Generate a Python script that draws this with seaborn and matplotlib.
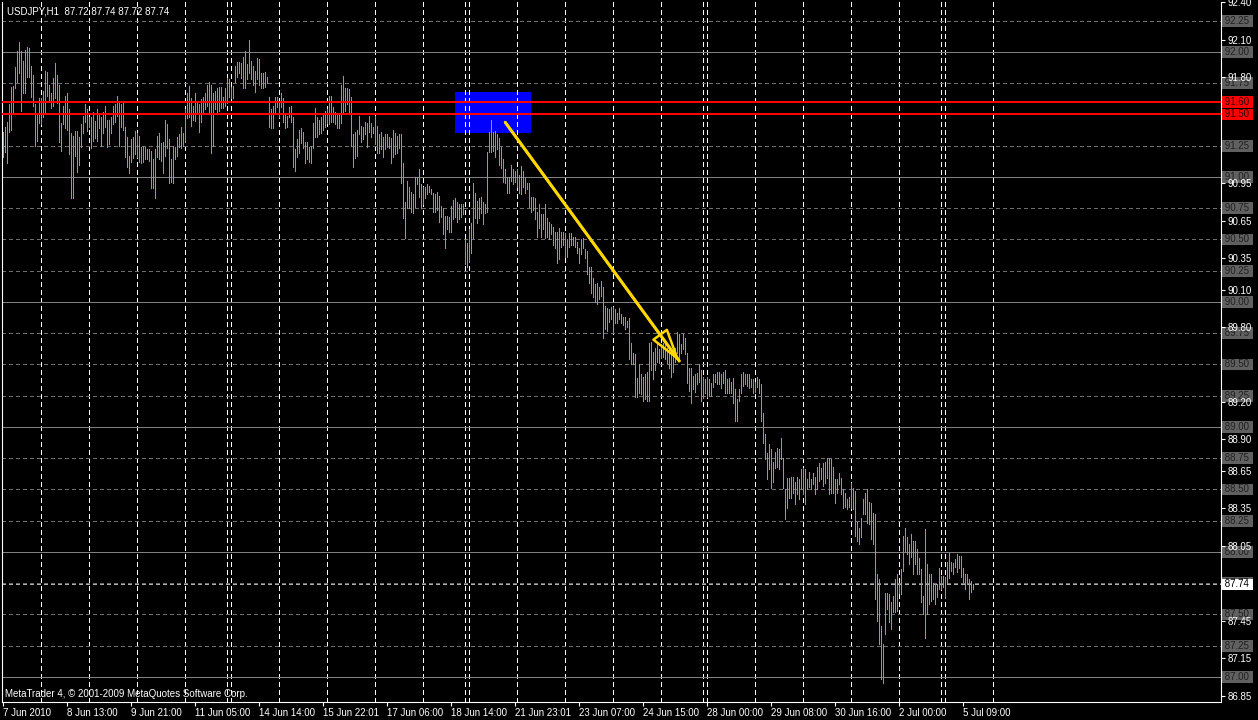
import datetime as dt
import numpy as np
import pandas as pd
import matplotlib
matplotlib.use("Agg")
import matplotlib.pyplot as plt
from matplotlib.patches import Rectangle, FancyArrowPatch
import seaborn as sns

# USDJPY H1 bars (high / low), first bar 7 Jun 2010 05:00
highs = [
    91.36, 91.40, 91.44, 91.58, 91.72, 91.73, 91.88, 92.01, 92.08, 92.01,
    91.93, 92.02, 92.04, 92.03, 91.89, 91.82, 91.58, 91.51, 91.63, 91.63,
    91.69, 91.85, 91.84, 91.74, 91.67, 91.79, 91.91, 91.82, 91.74, 91.43,
    91.57, 91.65, 91.67, 91.54, 91.35, 91.33, 91.37, 91.37, 91.32, 91.42,
    91.49, 91.58, 91.54, 91.48, 91.48, 91.52, 91.45, 91.54, 91.51, 91.48,
    91.52, 91.57, 91.46, 91.46, 91.48, 91.57, 91.58, 91.65, 91.60, 91.58,
    91.60, 91.40, 91.32, 91.17, 91.30, 91.32, 91.37, 91.35, 91.33, 91.24,
    91.25, 91.24, 91.22, 91.22, 91.21, 91.14, 91.22, 91.33, 91.35, 91.27,
    91.28, 91.46, 91.42, 91.30, 91.14, 91.25, 91.24, 91.32, 91.34, 91.40,
    91.35, 91.54, 91.67, 91.73, 91.63, 91.57, 91.67, 91.61, 91.58, 91.62,
    91.64, 91.67, 91.74, 91.76, 91.74, 91.67, 91.69, 91.71, 91.72, 91.72,
    91.64, 91.71, 91.79, 91.78, 91.72, 91.73, 91.89, 91.92, 91.92, 91.91,
    91.96, 92.01, 91.90, 92.10, 91.93, 91.89, 91.85, 91.95, 91.94, 91.83,
    91.83, 91.84, 91.80, 91.64, 91.54, 91.57, 91.64, 91.64, 91.59, 91.67,
    91.63, 91.50, 91.49, 91.56, 91.57, 91.48, 91.22, 91.30, 91.38, 91.39,
    91.36, 91.28, 91.28, 91.24, 91.25, 91.43, 91.55, 91.48, 91.46, 91.48,
    91.50, 91.53, 91.54, 91.65, 91.65, 91.56, 91.52, 91.51, 91.50, 91.74,
    91.81, 91.71, 91.71, 91.70, 91.64, 91.34, 91.36, 91.38, 91.49, 91.41,
    91.40, 91.44, 91.43, 91.49, 91.43, 91.40, 91.49, 91.41, 91.34, 91.36,
    91.32, 91.34, 91.34, 91.32, 91.31, 91.38, 91.35, 91.33, 91.34, 91.34,
    91.11, 90.80, 90.97, 90.92, 90.88, 90.86, 91.00, 91.00, 91.06, 90.94,
    90.92, 90.92, 90.94, 90.93, 90.90, 90.87, 90.86, 90.88, 90.85, 90.77,
    90.75, 90.69, 90.69, 90.68, 90.77, 90.82, 90.83, 90.80, 90.78, 90.78,
    90.78, 90.50, 90.47, 90.58, 90.63, 90.95, 90.87, 90.81, 90.83, 90.84,
    90.80, 90.78, 91.20, 91.36, 91.46, 91.36, 91.37, 91.34, 91.31, 91.24,
    91.14, 91.06, 91.00, 91.00, 91.10, 91.06, 91.05, 91.06, 91.02, 91.09,
    91.05, 90.99, 90.95, 90.95, 90.84, 90.84, 90.83, 90.72, 90.78, 90.70,
    90.70, 90.78, 90.67, 90.64, 90.62, 90.60, 90.56, 90.56, 90.59, 90.56,
    90.56, 90.55, 90.50, 90.55, 90.55, 90.52, 90.52, 90.48, 90.43, 90.50,
    90.51, 90.42, 90.41, 90.28, 90.28, 90.19, 90.14, 90.15, 90.12, 90.17,
    90.12, 89.97, 89.95, 89.94, 89.96, 89.96, 89.94, 89.91, 89.95, 89.90,
    89.88, 89.88, 89.85, 89.87, 89.67, 89.59, 89.58, 89.39, 89.50, 89.42,
    89.40, 89.42, 89.44, 89.67, 89.68, 89.60, 89.63, 89.68, 89.62, 89.66,
    89.67, 89.66, 89.63, 89.62, 89.59, 89.58, 89.63, 89.76, 89.74, 89.66,
    89.74, 89.71, 89.59, 89.47, 89.47, 89.41, 89.42, 89.43, 89.50, 89.46,
    89.40, 89.38, 89.40, 89.38, 89.35, 89.42, 89.42, 89.44, 89.44, 89.42,
    89.44, 89.46, 89.38, 89.39, 89.36, 89.39, 89.30, 89.22, 89.30, 89.42,
    89.44, 89.42, 89.42, 89.42, 89.38, 89.38, 89.36, 89.40, 89.38, 89.34,
    89.11, 88.94, 88.79, 88.86, 88.82, 88.72, 88.80, 88.83, 88.82, 88.91,
    88.75, 88.50, 88.59, 88.59, 88.60, 88.60, 88.56, 88.60, 88.58, 88.66,
    88.67, 88.66, 88.58, 88.64, 88.58, 88.63, 88.60, 88.68, 88.71, 88.67,
    88.71, 88.72, 88.75, 88.75, 88.74, 88.68, 88.58, 88.58, 88.63, 88.59,
    88.50, 88.47, 88.42, 88.44, 88.55, 88.51, 88.49, 88.24, 88.19, 88.27,
    88.42, 88.47, 88.50, 88.40, 88.39, 88.31, 88.30, 87.82, 87.78, 87.41,
    87.26, 87.67, 87.67, 87.66, 87.60, 87.65, 87.78, 87.82, 87.75, 87.86,
    88.13, 88.19, 88.12, 88.06, 88.14, 88.09, 88.09, 88.02, 87.95, 87.86,
    87.65, 88.18, 87.90, 87.82, 87.82, 87.75, 87.74, 87.74, 87.87, 87.81,
    87.81, 87.80, 87.92, 87.99, 87.92, 87.91, 87.94, 87.98, 87.97, 87.97,
    87.87, 87.82, 87.82, 87.78, 87.77, 87.74,
]
lows = [
    91.16, 91.20, 91.11, 91.36, 91.38, 91.50, 91.71, 91.76, 91.83, 91.53,
    91.67, 91.67, 91.80, 91.80, 91.64, 91.57, 91.25, 91.29, 91.43, 91.42,
    91.48, 91.50, 91.65, 91.61, 91.55, 91.57, 91.63, 91.59, 91.28, 91.21,
    91.42, 91.39, 91.38, 91.18, 90.83, 90.83, 91.17, 91.04, 91.10, 91.24,
    91.35, 91.44, 91.37, 91.40, 91.23, 91.29, 91.31, 91.29, 91.39, 91.25,
    91.35, 91.40, 91.24, 91.26, 91.35, 91.42, 91.44, 91.49, 91.25, 91.40,
    91.38, 91.16, 91.08, 91.03, 91.12, 91.15, 91.18, 91.16, 91.12, 91.11,
    91.12, 91.14, 91.14, 91.13, 90.91, 90.91, 90.83, 91.16, 91.14, 91.13,
    91.03, 91.17, 91.23, 90.95, 90.96, 90.95, 91.14, 91.17, 91.24, 91.23,
    91.25, 91.28, 91.47, 91.48, 91.41, 91.46, 91.45, 91.51, 91.36, 91.44,
    91.50, 91.54, 91.57, 91.51, 91.19, 91.25, 91.54, 91.52, 91.53, 91.55,
    91.55, 91.57, 91.59, 91.64, 91.63, 91.63, 91.76, 91.80, 91.83, 91.79,
    91.71, 91.71, 91.78, 91.83, 91.78, 91.74, 91.68, 91.78, 91.74, 91.71,
    91.71, 91.72, 91.75, 91.40, 91.39, 91.39, 91.50, 91.56, 91.48, 91.56,
    91.44, 91.39, 91.40, 91.48, 91.44, 91.08, 91.05, 91.16, 91.19, 91.27,
    91.23, 91.11, 91.14, 91.12, 91.11, 91.23, 91.32, 91.32, 91.34, 91.35,
    91.38, 91.40, 91.43, 91.42, 91.44, 91.44, 91.42, 91.39, 91.39, 91.43,
    91.52, 91.53, 91.58, 91.52, 91.25, 91.08, 91.15, 91.17, 91.34, 91.28,
    91.30, 91.34, 91.24, 91.36, 91.32, 91.35, 91.26, 91.19, 91.19, 91.22,
    91.16, 91.22, 91.24, 91.23, 91.11, 91.16, 91.18, 91.19, 91.23, 90.95,
    90.67, 90.51, 90.75, 90.75, 90.72, 90.71, 90.76, 90.94, 90.84, 90.75,
    90.78, 90.83, 90.86, 90.88, 90.86, 90.72, 90.72, 90.74, 90.64, 90.68,
    90.54, 90.43, 90.58, 90.56, 90.56, 90.66, 90.68, 90.64, 90.66, 90.68,
    90.70, 90.30, 90.28, 90.32, 90.39, 90.51, 90.67, 90.63, 90.67, 90.71,
    90.62, 90.71, 90.72, 91.20, 91.20, 91.21, 91.16, 91.22, 91.10, 91.07,
    90.96, 90.95, 90.87, 90.87, 90.97, 90.94, 90.96, 90.92, 90.87, 90.86,
    90.92, 90.87, 90.90, 90.76, 90.72, 90.74, 90.66, 90.52, 90.59, 90.52,
    90.58, 90.51, 90.52, 90.50, 90.54, 90.46, 90.43, 90.31, 90.34, 90.44,
    90.46, 90.36, 90.36, 90.44, 90.46, 90.46, 90.44, 90.39, 90.31, 90.38,
    90.43, 90.35, 90.22, 90.15, 90.07, 90.04, 90.00, 89.98, 90.02, 90.05,
    89.71, 89.78, 89.77, 89.84, 89.86, 89.76, 89.83, 89.83, 89.86, 89.83,
    89.82, 89.78, 89.80, 89.54, 89.50, 89.50, 89.24, 89.24, 89.27, 89.26,
    89.21, 89.22, 89.21, 89.21, 89.46, 89.38, 89.46, 89.52, 89.51, 89.55,
    89.56, 89.54, 89.51, 89.47, 89.40, 89.44, 89.52, 89.59, 89.54, 89.59,
    89.62, 89.58, 89.35, 89.29, 89.19, 89.30, 89.28, 89.34, 89.36, 89.21,
    89.23, 89.27, 89.24, 89.25, 89.25, 89.32, 89.36, 89.34, 89.34, 89.31,
    89.35, 89.27, 89.27, 89.27, 89.27, 89.19, 89.05, 89.05, 89.21, 89.27,
    89.33, 89.34, 89.33, 89.31, 89.32, 89.27, 89.28, 89.32, 89.27, 89.05,
    88.87, 88.74, 88.58, 88.66, 88.51, 88.56, 88.67, 88.68, 88.66, 88.74,
    88.51, 88.26, 88.35, 88.43, 88.43, 88.47, 88.38, 88.46, 88.42, 88.50,
    88.46, 88.38, 88.50, 88.52, 88.50, 88.54, 88.46, 88.50, 88.57, 88.58,
    88.53, 88.55, 88.59, 88.46, 88.47, 88.47, 88.39, 88.47, 88.54, 88.46,
    88.35, 88.36, 88.34, 88.36, 88.35, 88.34, 88.13, 88.09, 88.06, 88.12,
    88.30, 88.30, 88.23, 88.22, 88.10, 88.06, 87.62, 87.45, 87.26, 86.98,
    86.95, 87.34, 87.54, 87.44, 87.38, 87.52, 87.52, 87.53, 87.67, 87.66,
    87.85, 88.01, 87.98, 87.90, 87.96, 87.82, 87.90, 87.82, 87.82, 87.60,
    87.50, 87.31, 87.50, 87.58, 87.61, 87.62, 87.58, 87.64, 87.70, 87.70,
    87.72, 87.63, 87.75, 87.79, 87.85, 87.82, 87.88, 87.84, 87.87, 87.80,
    87.76, 87.70, 87.74, 87.62, 87.68, 87.70,
]

time_labels = ["7 Jun 2010", "8 Jun 13:00", "9 Jun 21:00", "11 Jun 05:00",
               "14 Jun 14:00", "15 Jun 22:01", "17 Jun 06:00", "18 Jun 14:00",
               "21 Jun 23:01", "23 Jun 07:00", "24 Jun 15:00", "28 Jun 00:00",
               "29 Jun 08:00", "30 Jun 16:00", "2 Jul 00:00", "5 Jul 09:00"]
price_labels = [92.40, 92.10, 91.80, 90.95, 90.65, 90.35, 90.10, 89.80,
                89.20, 88.90, 88.65, 88.35, 88.05, 87.45, 87.15, 86.85]
solid_levels = [92.00, 91.00, 90.00, 89.00, 88.00, 87.00]
dashed_levels = [92.25, 91.75, 91.50, 91.25, 90.75, 90.50, 90.25, 89.75,
                 89.50, 89.25, 88.75, 88.50, 88.25, 87.75, 87.50, 87.25]
red_levels = [91.60, 91.50]
last_price = 87.74
zone_bars = (226, 264)
zone_prices = (91.35, 91.68)
trend_from = (251, 91.44)
trend_to = (338.5, 89.52)

# hourly session calendar: Mon-Thu all day, Fri to 20:00, Sun from 22:00
times = []
t = dt.datetime(2010, 6, 7, 5)
while len(times) < 500:
    wd = t.weekday()
    if wd <= 3 or (wd == 4 and t.hour <= 20) or (wd == 6 and t.hour >= 22):
        times.append(t)
    t += dt.timedelta(hours=1)
day_starts = [i for i in range(1, len(times)) if times[i].date() != times[i - 1].date()]

n = len(highs)
bars = pd.DataFrame({
    "bar": np.repeat(np.arange(n), 2),
    "price": np.ravel(np.column_stack([lows, highs])),
})

sns.set_theme(style="dark", rc={"axes.facecolor": "black", "figure.facecolor": "black",
                                "lines.scale_dashes": False})
plt.rcParams["font.family"] = ["Liberation Sans", "DejaVu Sans"]

W, H = 1258, 720
fig = plt.figure(figsize=(W / 100, H / 100), dpi=100)
ax = fig.add_axes([2 / W, 18 / H, 1219 / W, 700 / H])
ax.set_facecolor("black")
ax.set_xlim(-0.5, 609)
ax.set_ylim(86.80, 92.40)

ax.add_patch(Rectangle((zone_bars[0], zone_prices[0]), zone_bars[1] - zone_bars[0],
                       zone_prices[1] - zone_prices[0], fc="#0000ff", ec="none", zorder=0.5))

for d in day_starts:
    ax.axvline(d, color="white", lw=0.7, ls=(0, (2.9, 2.2)), zorder=1, antialiased=False)
for lv in solid_levels:
    ax.axhline(lv, color="#808080", lw=0.7, zorder=1, antialiased=False)
for lv in dashed_levels:
    ax.axhline(lv, color="#707070", lw=0.7, ls=(0, (2.5, 2.2)), zorder=1, antialiased=False)
ax.axhline(last_price, color="#b0b0b0", lw=0.7, ls=(0, (2.5, 2.2)), zorder=1.1,
           antialiased=False)

sns.lineplot(data=bars, x="bar", y="price", units="bar", estimator=None, sort=False,
             color="#30e030", lw=0.7, ax=ax, legend=False, zorder=2, antialiased=False)

for lv in red_levels:
    ax.axhline(lv, color="#ff0000", lw=1.44, zorder=3, antialiased=False)

ax.plot([trend_from[0], trend_to[0]], [trend_from[1], trend_to[1]],
        color="#ffd700", lw=2.2, zorder=6, solid_capstyle="butt")
ax.add_patch(FancyArrowPatch(trend_from, trend_to, arrowstyle="-|>,head_length=21,head_width=6",
                             mutation_scale=1, lw=1.8, ec="#ffd700", fc="none",
                             shrinkA=0, shrinkB=0, zorder=6))

# axes frame and scales
for side in ["left", "bottom", "right"]:
    ax.spines[side].set_color("white")
    ax.spines[side].set_linewidth(0.8)
ax.spines["top"].set_visible(False)
ax.set_xlabel("")
ax.set_ylabel("")
ax.grid(False)

ax.set_xticks(np.arange(len(time_labels)) * 32)
ax.set_xticklabels(time_labels)
for lbl in ax.get_xticklabels():
    lbl.set_ha("left")
ax.yaxis.tick_right()
ax.set_yticks(price_labels)
ax.set_yticklabels([f"{p:.2f}" for p in price_labels])
ax.tick_params(axis="x", colors="white", labelsize=7, length=3, width=0.8, pad=1.5, bottom=True)
ax.tick_params(axis="y", colors="white", labelsize=7, length=3, width=0.8, pad=1.5, right=True)
ax.yaxis.set_zorder(4)

def level_tag(value, face, text_color):
    ax.annotate(f" {value:.2f} ", xy=(1, value), xycoords=ax.get_yaxis_transform(),
                xytext=(1, 0), textcoords="offset pixels", ha="left", va="center",
                fontsize=7, color=text_color, annotation_clip=False, zorder=1,
                bbox=dict(boxstyle="square,pad=0.1", fc=face, ec="none"))

for lv in solid_levels + dashed_levels:
    level_tag(lv, "#606060", "#202020")
for lv in red_levels:
    level_tag(lv, "#ff0000", "#300000")
level_tag(last_price, "white", "black")

fig.text(7 / W, 1 - 11 / H, "USDJPY,H1  87.72 87.74 87.72 87.74", color="white",
         fontsize=7, va="center", ha="left")
fig.text(5 / W, 1 - 694 / H, "MetaTrader 4, \u00a9 2001-2009 MetaQuotes Software Corp.",
         color="white", fontsize=7, va="center", ha="left")

fig.savefig("out.png", dpi=100, facecolor="black")
